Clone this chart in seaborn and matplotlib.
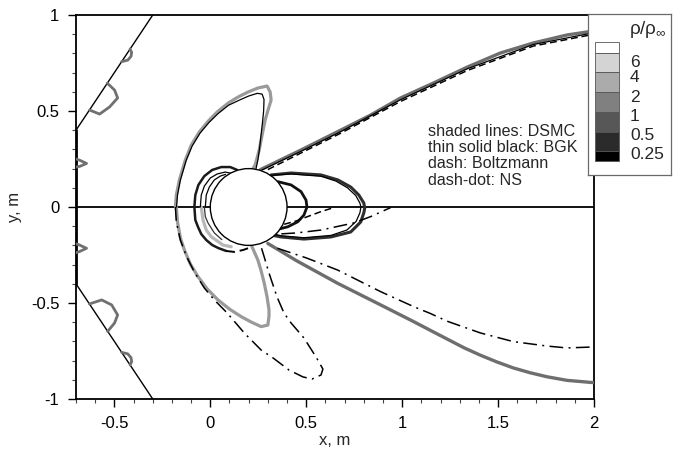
import matplotlib
matplotlib.use("Agg")
import matplotlib.pyplot as plt
import seaborn as sns
from matplotlib.patches import Circle, Rectangle

# ---------------- data ----------------
# DSMC bow lobe (upper / lower)
bow_dsmc_up_x = [-0.182, -0.177, -0.161, -0.130, -0.099, -0.057, -0.010, 0.036, 0.094, 0.145, 0.197,
                 0.249, 0.296, 0.312, 0.317, 0.301, 0.286, 0.270, 0.255, 0.234, 0.218]
bow_dsmc_up_y = [0.0, 0.0625, 0.141, 0.245, 0.323, 0.391, 0.448, 0.495, 0.542, 0.573, 0.599,
                 0.620, 0.630, 0.599, 0.557, 0.505, 0.453, 0.375, 0.297, 0.219, 0.193]
bow_dsmc_lo_x = [-0.177, -0.171, -0.156, -0.135, -0.104, -0.064, -0.016, 0.040, 0.099, 0.161, 0.213,
                 0.265, 0.300, 0.306, 0.306, 0.296, 0.281, 0.265, 0.248, 0.217]
bow_dsmc_lo_y = [0.0, -0.078, -0.161, -0.224, -0.297, -0.363, -0.427, -0.484, -0.531, -0.571, -0.599,
                 -0.623, -0.615, -0.568, -0.536, -0.469, -0.396, -0.333, -0.276, -0.206]
# BGK bow lobe (upper)
bow_bgk_x = [-0.176, -0.171, -0.156, -0.126, -0.095, -0.054, -0.007, 0.040, 0.095, 0.150, 0.200,
             0.245, 0.270, 0.280, 0.278, 0.272, 0.264, 0.256, 0.248, 0.238]
bow_bgk_y = [0.0, 0.062, 0.140, 0.242, 0.317, 0.384, 0.440, 0.486, 0.530, 0.556, 0.578,
             0.592, 0.588, 0.560, 0.500, 0.440, 0.370, 0.300, 0.245, 0.198]
# NS bow lobe (lower)
ns_lobe_x = [-0.182, -0.177, -0.156, -0.125, -0.083, -0.031, 0.021, 0.088, 0.177, 0.265, 0.327, 0.410,
             0.483, 0.530, 0.577, 0.587, 0.551, 0.488, 0.421, 0.384, 0.348, 0.306, 0.281, 0.265]
ns_lobe_y = [0.0, -0.078, -0.172, -0.255, -0.339, -0.422, -0.484, -0.552, -0.656, -0.745, -0.786, -0.849,
             -0.885, -0.896, -0.875, -0.844, -0.781, -0.682, -0.604, -0.552, -0.469, -0.344, -0.260, -0.208]
# rings ahead of the body
ring1_up_x = [-0.083, -0.078, -0.062, -0.031, 0.010, 0.057, 0.104, 0.140]
ring1_up_y = [0.0, 0.0625, 0.115, 0.161, 0.193, 0.208, 0.208, 0.193]
ring2_up_x = [-0.052, -0.047, -0.031, 0.0, 0.036, 0.078, 0.110]
ring2_up_y = [0.0, 0.0625, 0.109, 0.151, 0.172, 0.182, 0.175]
ring3_up_x = [-0.026, -0.021, -0.005, 0.021, 0.052, 0.080]
ring3_up_y = [0.0, 0.0625, 0.104, 0.141, 0.161, 0.170]
ring1_lo_x = [-0.083, -0.078, -0.064, -0.047, -0.021, 0.010, 0.042, 0.083]
ring1_lo_y = [0.0, -0.068, -0.104, -0.141, -0.172, -0.198, -0.214, -0.229]
ring1_lo_dash_x = [0.083, 0.125, 0.171, 0.210]
ring1_lo_dash_y = [-0.229, -0.234, -0.224, -0.210]
ring2_lo_x = [-0.047, -0.038, -0.021, 0.005, 0.066, 0.109]
ring2_lo_y = [0.0, -0.068, -0.120, -0.155, -0.198, -0.207]
ring3_lo_x = [-0.031, -0.026, -0.012, 0.021, 0.060]
ring3_lo_y = [0.0, -0.050, -0.083, -0.135, -0.170]
# closed wake lobes
wake_dsmc_x = [0.317, 0.421, 0.577, 0.665, 0.732, 0.774, 0.800, 0.805, 0.800, 0.784, 0.732, 0.629, 0.488, 0.369, 0.317]
wake_dsmc_y = [0.167, 0.177, 0.167, 0.141, 0.104, 0.0625, 0.021, -0.005, -0.031, -0.078, -0.130, -0.156, -0.167, -0.156, -0.146]
wake_bgk_x = [0.317, 0.421, 0.577, 0.655, 0.715, 0.758, 0.780, 0.785, 0.780, 0.760, 0.712, 0.629, 0.488, 0.369, 0.330]
wake_bgk_y = [0.165, 0.172, 0.160, 0.135, 0.100, 0.060, 0.020, 0.0, -0.030, -0.075, -0.120, -0.148, -0.160, -0.150, -0.140]
wake_inner_x = [0.352, 0.421, 0.473, 0.499, 0.504, 0.488, 0.456, 0.404, 0.358]
wake_inner_y = [0.132, 0.115, 0.080, 0.036, 0.0, -0.042, -0.077, -0.103, -0.115]
wake_ns_x = [0.370, 0.450, 0.577, 0.748, 0.836, 0.940]
wake_ns_y = [-0.140, -0.135, -0.120, -0.083, -0.050, -0.003]
wake_bolt_x = [0.385, 0.450, 0.507, 0.577, 0.644]
wake_bolt_y = [-0.090, -0.072, -0.050, -0.024, -0.003]
# long wake lines
far_dsmc_up_x = [0.262, 0.473, 0.681, 0.836, 0.992, 1.164, 1.340, 1.512, 1.683, 1.860, 2.0]
far_dsmc_up_y = [0.195, 0.297, 0.401, 0.479, 0.568, 0.646, 0.729, 0.802, 0.854, 0.896, 0.917]
far_bgk_up_x = [0.270, 0.473, 0.681, 0.992, 1.340, 1.683, 2.0]
far_bgk_up_y = [0.193, 0.290, 0.393, 0.559, 0.720, 0.846, 0.908]
far_bolt_up_x = [0.300, 0.681, 0.992, 1.340, 1.683, 2.0]
far_bolt_up_y = [0.195, 0.385, 0.550, 0.711, 0.838, 0.900]
far_dsmc_lo_x = [0.300, 0.450, 0.663, 0.888, 1.060, 1.148, 1.235, 1.322, 1.408, 1.494, 1.579, 1.666,
                 1.754, 1.860, 2.0]
far_dsmc_lo_y = [-0.190, -0.280, -0.397, -0.510, -0.597, -0.643, -0.688, -0.733, -0.772, -0.807, -0.838,
                 -0.863, -0.884, -0.903, -0.915]
far_ns_lo_x = [0.350, 0.500, 0.663, 0.888, 1.060, 1.148, 1.235, 1.408, 1.579, 1.754, 1.858, 2.0]
far_ns_lo_y = [-0.215, -0.265, -0.328, -0.441, -0.519, -0.555, -0.595, -0.656, -0.701, -0.724, -0.734, -0.729]
# small DSMC loops near the inflow boundary
bump_a_up_x = [-0.462, -0.430, -0.413, -0.410, -0.418]
bump_a_up_y = [0.757, 0.765, 0.785, 0.805, 0.823]
bump_b_up_x = [-0.629, -0.577, -0.525, -0.483, -0.499, -0.537]
bump_b_up_y = [0.505, 0.484, 0.521, 0.568, 0.609, 0.645]
bump_c_up_x = [-0.700, -0.684, -0.645, -0.679, -0.700]
bump_c_up_y = [0.250, 0.245, 0.227, 0.212, 0.208]
bump_a_lo_x = [-0.462, -0.430, -0.413, -0.410, -0.418]
bump_a_lo_y = [-0.757, -0.765, -0.785, -0.805, -0.823]
bump_b_lo_x = [-0.630, -0.566, -0.514, -0.483, -0.499, -0.535]
bump_b_lo_y = [-0.505, -0.484, -0.510, -0.5625, -0.604, -0.648]
bump_c_lo_x = [-0.700, -0.684, -0.645, -0.684, -0.700]
bump_c_lo_y = [-0.192, -0.197, -0.215, -0.233, -0.238]
# domain boundary, symmetry line and body
bnd_up_x = [-0.7, -0.3]
bnd_up_y = [0.4, 1.0]
bnd_lo_x = [-0.7, -0.3]
bnd_lo_y = [-0.4, -1.0]
bnd_left_x = [-0.7, -0.7]
bnd_left_y = [-0.4, 0.4]
sym_x = [-0.7, 2.0]
sym_y = [0.0, 0.0]
body_center = (0.2, 0.0)
body_radius = 0.2

legend_levels = ["6", "4", "2", "1", "0.5", "0.25"]
legend_colors = ["#ffffff", "#d4d4d4", "#ababab", "#808080", "#575757", "#2b2b2b", "#000000"]
annotation = "shaded lines: DSMC\nthin solid black: BGK\ndash: Boltzmann\ndash-dot: NS"

# ---------------- style ----------------
sns.set_style("white")
plt.rcParams["font.family"] = ["Liberation Sans", "DejaVu Sans"]
plt.rcParams["axes.unicode_minus"] = False
plt.rcParams["mathtext.fontset"] = "custom"
plt.rcParams["mathtext.rm"] = "Liberation Sans"
plt.rcParams["mathtext.it"] = "Liberation Sans"

W, H = 680, 458
fig = plt.figure(figsize=(6.8, 4.58), dpi=100)
ax = fig.add_axes([76 / W, 59 / H, 518 / W, 384 / H])

DASH = (0, (4.5, 2.5))
DASHDOT = (0, (9, 3.5, 1.3, 3.5))


def curve(xs, ys, color, lw, ls="-", z=3):
    sns.lineplot(x=xs, y=ys, sort=False, estimator=None, ax=ax, color=color,
                 linewidth=lw, linestyle=ls, zorder=z)


# boundary / symmetry
curve(sym_x, sym_y, "black", 1.3, z=2)
curve(bnd_up_x, bnd_up_y, "black", 1.0, z=2)
curve(bnd_lo_x, bnd_lo_y, "black", 1.0, z=2)
curve(bnd_left_x, bnd_left_y, "black", 2.0, z=2)

# DSMC shaded lines
G_BOW = "#9a9a9a"
G_FAR = "#6e6e6e"
curve(bow_dsmc_up_x, bow_dsmc_up_y, G_BOW, 2.3)
curve(bow_dsmc_lo_x, bow_dsmc_lo_y, G_BOW, 2.3)
curve(far_dsmc_up_x, far_dsmc_up_y, G_FAR, 2.4)
curve(far_dsmc_lo_x, far_dsmc_lo_y, G_FAR, 2.4)
curve(wake_dsmc_x, wake_dsmc_y, "#2e2e2e", 2.2)
curve(wake_inner_x, wake_inner_y, "#111111", 2.0)
curve(ring2_lo_x, ring2_lo_y, "#b8b8b8", 2.3)
curve(ring1_up_x, ring1_up_y, "#1a1a1a", 1.8)
curve(ring1_lo_x, ring1_lo_y, "#1a1a1a", 1.8)
for bx, by in [(bump_a_up_x, bump_a_up_y), (bump_b_up_x, bump_b_up_y), (bump_c_up_x, bump_c_up_y),
               (bump_a_lo_x, bump_a_lo_y), (bump_b_lo_x, bump_b_lo_y), (bump_c_lo_x, bump_c_lo_y)]:
    curve(bx, by, "#707070", 2.0)

# BGK thin black
curve(bow_bgk_x, bow_bgk_y, "black", 0.9, z=4)
curve(far_bgk_up_x, far_bgk_up_y, "black", 0.9, z=4)
curve(wake_bgk_x, wake_bgk_y, "black", 0.9, z=4)
curve(ring2_up_x, ring2_up_y, "black", 0.9, z=4)
curve(ring3_up_x, ring3_up_y, "black", 0.9, z=4)
curve(ring3_lo_x, ring3_lo_y, "#333333", 0.9, z=4)

# Boltzmann dashed
curve(far_bolt_up_x, far_bolt_up_y, "black", 1.1, DASH, z=4)
curve(wake_bolt_x, wake_bolt_y, "black", 1.1, DASH, z=4)
curve(ring1_lo_dash_x, ring1_lo_dash_y, "black", 1.4, DASH, z=4)

# NS dash-dot
curve(ns_lobe_x, ns_lobe_y, "black", 1.1, DASHDOT, z=4)
curve(far_ns_lo_x, far_ns_lo_y, "black", 1.1, DASHDOT, z=4)
curve(wake_ns_x, wake_ns_y, "black", 1.1, DASHDOT, z=4)

# body
ax.add_patch(Circle(body_center, body_radius, facecolor="white", edgecolor="black", lw=1.0, zorder=6))

ax.set_xlim(-0.7, 2.0)
ax.set_ylim(-1.0, 1.0)
ax.set_xticks([-0.5, 0, 0.5, 1, 1.5, 2])
ax.set_xticklabels(["-0.5", "0", "0.5", "1", "1.5", "2"])
ax.set_yticks([-1, -0.5, 0, 0.5, 1])
ax.set_yticklabels(["-1", "-0.5", "0", "0.5", "1"])
ax.set_xticks([v / 10 for v in range(-7, 21)], minor=True)
ax.set_yticks([v / 10 for v in range(-10, 11)], minor=True)
ax.tick_params(which="major", direction="out", length=6, width=1.0, labelsize=12, pad=6,
               bottom=True, left=True, top=False, right=False, colors="black")
ax.tick_params(which="minor", direction="out", length=3.2, width=0.8,
               bottom=True, left=True, top=False, right=False, colors="#444444")
for s in ax.spines.values():
    s.set_color("black")
    s.set_linewidth(1.3)
ax.set_xlabel("x, m", fontsize=12, labelpad=2)
ax.set_ylabel("y, m", fontsize=12, labelpad=6)

fig.text(428 / W, 1 - 124 / H, annotation, fontsize=11.6, va="top", ha="left",
         linespacing=1.1, zorder=8)

# ---------------- legend box ----------------
lx0, ly0, lw_, lh_ = 588, 14, 83, 161
lax = fig.add_axes([lx0 / W, (H - ly0 - lh_) / H, lw_ / W, lh_ / H], zorder=10)
lax.set_xlim(0, lw_)
lax.set_ylim(lh_, 0)
lax.set_xticks([])
lax.set_yticks([])
lax.set_facecolor("white")
for s in lax.spines.values():
    s.set_color("#6a6a6a")
    s.set_linewidth(0.9)
bounds = [28, 38.7, 57.7, 77.7, 97.7, 117.7, 136.7, 146.7]
for i, c in enumerate(legend_colors):
    lax.add_patch(Rectangle((7, bounds[i]), 24, bounds[i + 1] - bounds[i], facecolor=c,
                            edgecolor="#555555", lw=0.6))
label_y = [48.5, 64, 83.5, 102.5, 122, 140.5]
for lab, yy in zip(legend_levels, label_y):
    lax.text(42, yy, lab, fontsize=12.5, va="center", ha="left")
lax.text(60, 15.5, r"$\rho/\rho_{\infty}$", fontsize=13.5, va="center", ha="center")

fig.savefig("out.png", dpi=100)
